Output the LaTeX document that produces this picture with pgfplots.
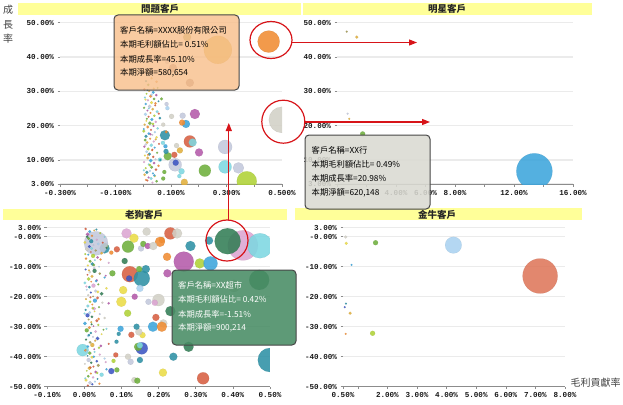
\documentclass[border=0pt]{standalone}
\usepackage{fontspec}
\setmainfont{Noto Sans CJK TC}
\newfontfamily\tickfont{Liberation Mono}
\usepackage{pgfplots}
\usepackage{pgfplotstable}
\pgfplotsset{compat=1.18}
\usetikzlibrary{arrows.meta}

\definecolor{ttlbar}{RGB}{255,255,153}
\definecolor{annred}{RGB}{215,20,25}
\definecolor{tipor}{RGB}{248,192,140}
\definecolor{tipgr}{RGB}{218,218,210}
\definecolor{tipgn}{RGB}{72,140,100}
\definecolor{tipbd}{RGB}{70,70,70}

\definecolor{bc0}{RGB}{240,140,50}
\definecolor{bc1}{RGB}{60,165,220}
\definecolor{bc2}{RGB}{110,175,60}
\definecolor{bc3}{RGB}{215,95,65}
\definecolor{bc4}{RGB}{180,90,170}
\definecolor{bc5}{RGB}{45,145,165}
\definecolor{bc6}{RGB}{175,210,55}
\definecolor{bc7}{RGB}{195,200,220}
\definecolor{bc8}{RGB}{225,175,60}
\definecolor{bc9}{RGB}{125,215,225}
\definecolor{bc10}{RGB}{220,165,210}
\definecolor{bc11}{RGB}{50,125,85}
\definecolor{bc12}{RGB}{170,210,240}
\definecolor{bc13}{RGB}{210,208,198}
\definecolor{bc14}{RGB}{60,85,195}
\definecolor{bc15}{RGB}{235,220,70}
\definecolor{bc16}{RGB}{165,155,85}
\definecolor{bc17}{RGB}{170,130,130}
\definecolor{bc18}{RGB}{222,118,90}

\pgfplotsset{
  panel/.style={
    scale only axis, anchor=south west,
    clip marker paths=true,
    axis x line*=bottom, axis y line*=left,
    x axis line style={-, draw=black!45, line width=0.8pt},
    y axis line style={draw=none},
    tick align=outside, major tick length=2.5pt, minor tick length=2.5pt,
    tick style={black!45, line width=0.6pt},
    ymajorgrids, grid style={black!8, line width=1.4pt},
    ticklabel style={font=\tickfont\bfseries\fontsize{7.6}{8}\selectfont, text=black!90},
  },
  bubbles/.style={scatter, only marks, mark=*,
    point meta=explicit symbolic,
    visualization depends on={\thisrow{r}\as\rad},
    scatter/@pre marker code/.code={%
      \edef\ci{\pgfplotspointmeta}%
      \scope[draw=bc\ci!80!black, fill=bc\ci, /tikz/mark size=\rad]},
    scatter/@post marker code/.code={\endscope},
    mark options={line width=0.2pt, fill opacity=0.88, draw opacity=0.4}},
}

% ---------------- top-left: problem customers ----------------
\pgfplotstableread{
x y r c
0.269 42.1 14 8
0.452 44.5 11 0
0.4995 21.7 13 13
0.158 45.8 4 16
0.107 36.8 4 17
0.168 32.5 4 17
0.086 38.6 2 7
0.060 36.2 2 7
0.373 3.8 10 6
0.295 13.8 7 7
0.295 8.0 6.5 9
0.343 7.7 5.5 7
0.222 6.9 6 2
0.115 8.6 6.5 7
0.117 9.2 3 14
0.168 15.4 6 3
0.178 15.1 4 9
0.186 23.4 5 4
0.142 22.9 3 7
0.102 22.7 2.5 13
0.154 20.5 4 1
0.140 20.9 3 0
0.078 17.2 5 5
0.201 12.2 4 4
0.132 12.8 3 8
0.120 14.2 2.5 13
0.112 11.5 3 3
0.148 3.5 3.5 8
0.138 6.7 3 9
0.130 5.3 2 9
0.088 11.1 4 2
0.080 14.0 2 1
0.082 12.5 2.5 5
0.084 26.3 2 7
0.087 25.1 2 12
0.066 27.8 1.5 2
0.072 20.3 2 13
0.076 6.5 2 2
0.072 4.6 2 2
0.060 10.1 2 9
0.071 15.0 2 9
0.083 18.2 1.5 0
0.018 31.9 1.2 2
0.030 33.8 1.0 8
0.048 32.8 1.2 0
0.010 33.0 1.0 5
0.004 30.6 1.2 3
0.021 30.1 1.0 8
0.036 29.7 1.4 1
0.012 29.3 0.9 6
0.047 28.9 1.2 4
0.027 28.6 1.6 0
0.006 28.2 1.0 9
0.039 27.8 1.3 2
0.017 27.4 1.1 10
0.055 27.1 0.9 5
0.030 26.7 1.5 15
0.009 26.3 1.2 1
0.043 25.9 1.0 3
0.023 25.6 1.7 7
0.003 25.2 1.1 2
0.034 24.8 1.3 8
0.015 24.4 0.9 4
0.050 24.1 1.4 9
0.026 23.7 1.0 0
0.008 23.3 1.6 12
0.040 22.9 1.2 6
0.019 22.6 1.0 3
0.060 22.2 1.3 5
0.031 21.8 1.5 1
0.011 21.4 0.9 15
0.045 21.1 1.2 10
0.024 20.7 1.8 2
0.005 20.3 1.1 8
0.037 19.9 1.0 4
0.016 19.6 1.4 0
0.052 19.2 1.2 9
0.028 18.8 1.0 3
0.002 18.4 1.5 6
0.042 18.1 1.1 12
0.020 17.7 1.3 1
0.033 17.3 0.9 7
0.010 16.9 1.6 5
0.048 16.6 1.2 15
0.025 16.2 1.0 0
0.007 15.8 1.4 2
0.038 15.4 1.1 10
0.014 15.1 1.3 8
0.057 14.7 1.0 3
0.029 14.3 1.7 9
0.004 13.9 1.2 4
0.041 13.6 1.0 1
0.018 13.2 1.5 6
0.032 12.8 0.9 0
0.012 12.4 1.3 12
0.050 12.1 1.1 2
0.022 11.7 1.6 5
0.006 11.3 1.0 15
0.036 10.9 1.2 3
0.016 10.6 1.4 8
0.044 10.2 1.0 7
0.027 9.8 1.8 1
0.003 9.4 1.1 10
0.039 9.1 1.3 4
0.020 8.7 1.0 9
0.055 8.3 1.2 0
0.030 7.9 1.5 2
0.009 7.6 1.0 6
0.046 7.2 1.3 3
0.024 6.8 1.1 12
0.013 6.4 1.6 5
0.035 6.1 1.0 1
0.005 5.7 1.3 8
0.042 5.3 1.2 15
0.019 4.9 1.0 4
0.028 4.6 1.5 9
0.010 4.2 1.1 0
0.048 3.8 1.3 2
0.033 3.4 1.0 10
0.015 30.4 0.9 5
0.030 29.0 1.1 12
0.008 27.6 1.0 15
0.044 26.5 1.2 0
0.020 25.0 0.9 9
0.056 23.5 1.1 3
0.013 22.0 1.0 2
0.035 20.5 1.3 6
0.002 19.0 0.9 1
0.026 17.5 1.1 4
0.045 16.0 1.0 8
0.009 14.5 1.2 7
0.033 13.0 1.0 3
0.017 11.5 0.9 0
0.061 10.0 1.1 5
0.024 8.5 1.3 6
0.002 7.0 1.0 9
0.040 5.5 1.2 1
0.015 4.0 1.0 3
0.052 31.0 0.9 2
0.038 30.8 1.0 8
}\tldata

% ---------------- top-right: star customers ----------------
\pgfplotstableread{
x y r c
0.66 47.4 1 16
1.34 45.8 1.5 8
0.72 23.5 1 7
0.83 22.0 1 8
1.74 17.6 2.5 2
13.38 6.7 18 1
}\trdata

% ---------------- bottom-left: dog customers ----------------
\pgfplotstableread{
x y r c
0.427 -2.9 15 10
0.473 -3.0 12.5 9
0.386 -1.5 13 11
0.336 -1.3 4 5
0.286 -3.1 5 5
0.268 -8.3 10 4
0.311 -8.9 5 6
0.340 -8.9 7 1
0.224 -12.2 4 4
0.471 -14.4 10 11
0.403 -16.4 6 13
0.232 1.1 6 3
0.250 1.1 5 13
0.168 1.7 4 13
0.209 -1.1 3 0
0.223 -6.7 4 0
0.204 -1.7 5 0
0.114 1.1 5 10
0.134 -0.5 4.5 15
0.118 -3.3 6 2
0.153 -3.9 3 7
0.159 -2.4 3 2
0.171 -3.1 3 4
0.186 -3.1 4 13
0.088 -4.2 3 3
0.073 -5.3 2 0
0.055 -3.9 5 5
0.057 -3.1 3 2
0.109 -8.1 3 11
0.123 -12.5 8 3
0.121 -13.9 3 14
0.155 -13.9 8 5
0.166 -10.8 4 5
0.148 -10.8 3 2
0.150 -17.2 3.5 12
0.105 -17.8 4 15
0.100 -21.7 5 15
0.076 -12.2 3 2
0.136 -20.0 3 4
0.173 -21.7 3 7
0.200 -21.1 6 13
0.190 -22.0 3 10
0.232 -24.8 5 11
0.193 -26.9 3.5 3
0.213 -28.9 4 13
0.185 -30.0 5 1
0.209 -30.0 5 0
0.157 -32.8 3 15
0.147 -31.7 3.5 13
0.127 -32.7 3 3
0.141 -30.0 3 5
0.098 -30.7 3 1
0.093 -32.4 2 5
0.087 -35.0 2 5
0.085 -39.4 2.5 3
0.079 -41.4 2 6
0.118 -40.0 3 13
0.125 -41.7 3 7
0.150 -41.1 3 5
0.073 -44.8 3 14
0.088 -44.4 2.5 2
0.212 -45.3 4 15
0.135 -47.8 3 13
0.143 -48.0 3 2
0.117 -25.5 3.5 6
0.155 -37.2 6 14
0.145 -36.7 4 2
0.150 -36.2 3 9
-0.004 -37.8 6 9
0.240 -40.0 4 5
0.281 -36.7 5 11
0.4995 -41.1 12 5
0.320 -47.2 6 3
0.032 -2.2 12 7
0.004 2.6 1.2 3
0.027 2.1 0.9 8
0.015 1.7 1.5 1
0.043 1.2 1.0 6
0.009 0.8 1.8 4
0.021 0.3 1.1 0
0.055 -0.1 0.8 9
0.012 -0.6 1.4 2
0.034 -1.0 1.0 10
0.019 -1.5 2.0 5
0.002 -1.9 1.3 15
0.038 -2.4 1.2 12
0.025 -2.8 0.9 7
0.014 -3.3 1.5 14
0.060 -3.7 1.0 11
0.007 -4.2 1.8 13
0.031 -4.6 1.1 16
0.018 -5.1 0.8 3
0.047 -5.5 1.4 8
0.011 -6.0 1.0 1
0.024 -6.4 2.0 6
0.036 -6.9 1.3 4
0.005 -7.3 1.2 0
0.029 -7.8 0.9 9
0.016 -8.2 1.5 2
0.066 -8.7 1.0 10
0.022 -9.1 1.8 5
0.010 -9.6 1.1 15
0.040 -10.0 0.8 12
0.027 -10.5 1.4 7
0.004 -10.9 1.0 14
0.028 -11.4 2.0 11
0.015 -11.8 1.3 13
0.042 -12.3 1.2 16
0.009 -12.7 0.9 3
0.021 -13.2 1.5 8
0.055 -13.6 1.0 1
0.012 -14.1 1.8 6
0.034 -14.5 1.1 4
0.019 -15.0 0.8 0
0.002 -15.4 1.4 9
0.038 -15.9 1.0 2
0.025 -16.3 2.0 10
0.014 -16.8 1.3 5
0.060 -17.2 1.2 15
0.007 -17.7 0.9 12
0.031 -18.1 1.5 7
0.018 -18.6 1.0 14
0.047 -19.0 1.8 11
0.011 -19.5 1.1 13
0.024 -19.9 0.8 16
0.036 -20.4 1.4 3
0.005 -20.8 1.0 8
0.029 -21.3 2.0 1
0.016 -21.7 1.3 6
0.066 -22.2 1.2 4
0.022 -22.6 0.9 0
0.010 -23.1 1.5 9
0.040 -23.5 1.0 2
0.027 -24.0 1.8 10
0.004 -24.4 1.1 5
0.028 -24.9 0.8 15
0.015 -25.3 1.4 12
0.042 -25.8 1.0 7
0.009 -26.2 2.0 14
0.021 -26.7 1.3 11
0.055 -27.1 1.2 13
0.012 -27.6 0.9 16
0.034 -28.0 1.5 3
0.019 -28.5 1.0 8
0.002 -28.9 1.8 1
0.038 -29.4 1.1 6
0.025 -29.8 0.8 4
0.014 -30.3 1.4 0
0.060 -30.7 1.0 9
0.007 -31.2 2.0 2
0.031 -31.6 1.3 10
0.018 -32.1 1.2 5
0.047 -32.5 0.9 15
0.011 -33.0 1.5 12
0.024 -33.4 1.0 7
0.036 -33.9 1.8 14
0.005 -34.3 1.1 11
0.029 -34.8 0.8 13
0.016 -35.2 1.4 16
0.066 -35.7 1.0 3
0.022 -36.1 2.0 8
0.010 -36.6 1.3 1
0.040 -37.0 1.2 6
0.027 -37.5 0.9 4
0.004 -37.9 1.5 0
0.028 -38.4 1.0 9
0.015 -38.8 1.8 2
0.042 -39.3 1.1 10
0.009 -39.7 0.8 5
0.021 -40.2 1.4 15
0.055 -40.6 1.0 12
0.012 -41.1 2.0 7
0.034 -41.5 1.3 14
0.019 -42.0 1.2 11
0.002 -42.4 0.9 13
0.038 -42.9 1.5 16
0.025 -43.3 1.0 3
0.014 -43.8 1.8 8
0.060 -44.2 1.1 1
0.007 -44.7 0.8 6
0.031 -45.1 1.4 4
0.018 -45.6 1.0 0
0.047 -46.0 2.0 9
0.011 -46.5 1.3 2
0.024 -46.9 1.2 10
0.036 -47.4 0.9 5
0.005 -47.8 1.5 15
0.029 -48.3 1.0 12
0.016 -48.7 1.8 7
0.022 -49.2 1.1 14
0.010 -49.6 1.0 3
0.033 2.4 1.0 5
0.008 0.0 1.2 11
0.050 -2.0 1.0 3
0.020 -3.9 1.4 9
0.003 -5.8 1.0 6
0.044 -7.6 1.1 0
0.026 -9.4 1.3 2
0.013 -11.2 1.0 8
0.058 -13.0 0.9 4
0.032 -14.8 1.2 1
0.006 -16.6 1.0 10
0.037 -18.4 1.4 15
0.017 -20.2 1.0 3
0.049 -22.0 1.1 13
0.023 -23.8 1.3 6
0.001 -25.6 1.0 9
0.039 -27.4 1.2 0
0.020 -29.2 1.0 11
0.052 -31.0 0.9 2
0.013 -32.8 1.2 5
0.030 -34.6 1.0 8
0.045 -36.4 1.3 4
0.006 -38.2 1.0 12
0.026 -40.0 1.2 1
0.058 -41.8 1.0 10
0.017 -43.6 1.1 3
0.035 -45.4 1.2 6
0.003 -47.2 1.0 9
0.041 -49.0 1.1 0
}\bldata

% ---------------- bottom-right: cash-cow customers ----------------
\pgfplotstableread{
x y r c
0.59 -0.1 1.5 13
0.61 -2.2 1.5 15
1.60 -2.0 2.5 2
4.23 -2.8 8.3 12
0.79 -9.4 1 1
7.16 -13.1 17.5 18
0.60 -22.3 1 5
0.56 -23.5 1 14
0.74 -25.5 1.5 8
0.59 -32.4 1 0
1.50 -32.2 2.5 6
}\brdata

\begin{document}
\begin{tikzpicture}
\path[use as bounding box] (0pt,-404pt) rectangle (623pt,0pt);

% title bars
\fill[ttlbar] (18pt,-3pt) rectangle (301pt,-15pt);
\fill[ttlbar] (303pt,-3pt) rectangle (592pt,-15pt);
\fill[ttlbar] (3pt,-209pt) rectangle (287pt,-220pt);
\fill[ttlbar] (295pt,-208pt) rectangle (582pt,-220pt);
\begin{scope}[every node/.style={font=\fontsize{9.5}{10}\selectfont\bfseries, text=black!85}]
\node at (160pt,-9pt) {問題客戶};
\node at (447pt,-9pt) {明星客戶};
\node at (144pt,-214.5pt) {老狗客戶};
\node at (437pt,-214.5pt) {金牛客戶};
\end{scope}

% axis titles
\begin{scope}[every node/.style={font=\fontsize{10}{11}\selectfont, text=black!75}]
\node at (8pt,-10pt) {成};
\node at (8pt,-24.5pt) {長};
\node at (8pt,-38.5pt) {率};
\end{scope}
\node[font=\fontsize{10}{11}\selectfont, text=black!75] at (595.5pt,-383pt) {毛利貢獻率};

% top-left
\begin{axis}[panel, at={(60pt,-184pt)}, width=222pt, height=161.3pt,
  xmin=-0.3, xmax=0.5, ymin=3, ymax=50,
  xtick={-0.3,-0.1,0.1,0.3,0.5},
  xticklabels={-0.300\%,-0.100\%,0.100\%,0.300\%,0.500\%},
  minor xtick={-0.2,0,0.2,0.4},
  ytick={3,10,20,30,40,50},
  yticklabels={3.00\%,10.00\%,20.00\%,30.00\%,40.00\%,50.00\%}]
\addplot[bubbles] table[meta=c] {\tldata};
\end{axis}

% top-right
\begin{axis}[panel, at={(337pt,-184pt)}, width=236pt, height=161.3pt,
  xmin=0, xmax=16, ymin=3, ymax=50,
  xtick={0,2,4,6,8,10,12,14,16},
  xticklabels={,,4.00\%,6.00\%,8.00\%,,12.00\%,,16.00\%},
  ytick={3,10,20,30,40,50},
  yticklabels={3.00\%,10.00\%,20.00\%,30.00\%,40.00\%,50.00\%}]
\addplot[bubbles] table[meta=c] {\trdata};
\end{axis}

% bottom-left
\begin{axis}[panel, at={(47pt,-386.7pt)}, width=223pt, height=159pt,
  xmin=-0.1, xmax=0.5, ymin=-50, ymax=3,
  xtick={-0.1,0,0.1,0.2,0.3,0.4,0.5},
  xticklabels={-0.10\%,0.00\%,0.10\%,0.20\%,0.30\%,0.40\%,0.50\%},
  ytick={-50,-40,-30,-20,-10,0,3},
  yticklabels={-50.00\%,-40.00\%,-30.00\%,-20.00\%,-10.00\%,-0.00\%,3.00\%}]
\addplot[bubbles] table[meta=c] {\bldata};
\end{axis}

% bottom-right
\begin{axis}[panel, at={(343pt,-386.7pt)}, width=222pt, height=159pt,
  xmin=0.5, xmax=8, ymin=-50, ymax=3,
  xtick={0.5,2,3,4,5,6,7,8},
  xticklabels={0.50\%,2.00\%,3.00\%,4.00\%,5.00\%,6.00\%,7.00\%,8.00\%},
  minor xtick={1},
  ytick={-50,-40,-30,-20,-10,0,3},
  yticklabels={-50.00\%,-40.00\%,-30.00\%,-20.00\%,-10.00\%,-0.00\%,3.00\%}]
\addplot[bubbles] table[meta=c] {\brdata};
\end{axis}

% tooltips
\begin{scope}[every node/.style={anchor=west, font=\fontsize{8.3}{9}\selectfont, inner sep=0pt}]
\draw[tipbd, line width=1pt, rounded corners=4pt, fill=tipor, fill opacity=0.82] (114pt,-15pt) rectangle (239pt,-90pt);
\node at (120pt,-30pt) {客戶名稱=XXXX股份有限公司};
\node at (120pt,-44.5pt) {本期毛利額佔比= 0.51\%};
\node at (120pt,-59pt) {本期成長率=45.10\%};
\node at (120pt,-73pt) {本期淨額=580,654};

\draw[tipbd, line width=1pt, rounded corners=4pt, fill=tipgr, fill opacity=0.88] (305pt,-135pt) rectangle (430pt,-209pt);
\node at (311.5pt,-150pt) {客戶名稱=XX行};
\node at (311.5pt,-164.5pt) {本期毛利額佔比= 0.49\%};
\node at (311.5pt,-178.5pt) {本期成長率=20.98\%};
\node at (311.5pt,-193pt) {本期淨額=620,148};

\draw[tipbd, line width=1pt, rounded corners=4pt, fill=tipgn, fill opacity=0.88] (172pt,-270pt) rectangle (296pt,-345pt);
\node[text=white] at (178pt,-285pt) {客戶名稱=XX超市};
\node[text=white] at (178pt,-299.5pt) {本期毛利額佔比= 0.42\%};
\node[text=white] at (178pt,-314pt) {本期成長率=-1.51\%};
\node[text=white] at (178pt,-328pt) {本期淨額=900,214};
\end{scope}

% red annotations
\begin{scope}[annred, line width=1.2pt]
\draw (271pt,-40pt) ellipse [x radius=21pt, y radius=18.5pt];
\draw (283.3pt,-121.7pt) circle [radius=21.5pt];
\draw (227pt,-240.5pt) ellipse [x radius=21pt, y radius=20.5pt];
\draw[-{Triangle[length=8pt,width=6pt]}] (292pt,-42.5pt) -- (417pt,-42.5pt);
\draw[-{Triangle[length=8pt,width=6pt]}] (305pt,-122pt) -- (430pt,-122pt);
\draw[-{Triangle[length=8pt,width=6pt]}] (228.8pt,-220pt) -- (228.8pt,-123pt);
\end{scope}
\end{tikzpicture}
\end{document}
